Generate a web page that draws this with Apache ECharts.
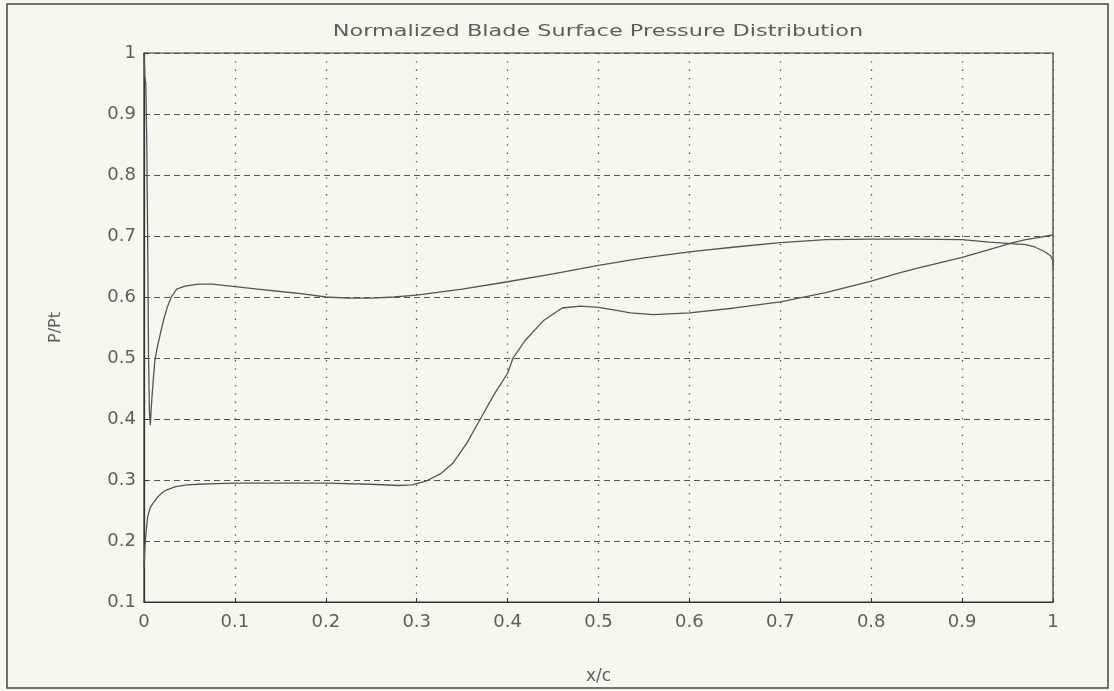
<!DOCTYPE html>
<html>
<head>
<meta charset="utf-8">
<script src="https://cdn.jsdelivr.net/npm/echarts@6/dist/echarts.min.js"></script>
<style>
html,body{margin:0;padding:0;background:#f7f7ef;}
#c{width:1114px;height:691px;}
</style>
</head>
<body>
<div id="c"></div>
<script>
const titleText = 'Normalized Blade Surface Pressure Distribution';
const xName = 'x/c';
const yName = 'P/Pt';
const xTickLabels = ['0','0.1','0.2','0.3','0.4','0.5','0.6','0.7','0.8','0.9','1'];
const yTickLabels = ['0.1','0.2','0.3','0.4','0.5','0.6','0.7','0.8','0.9','1'];

// Upper curve (starts at stagnation spike)
const upperX = [0,0.001,0.002,0.003,0.004,0.005,0.006,0.007,0.008,0.01,0.012,0.015,0.018,0.022,0.026,0.03,0.036,0.045,0.06,0.075,0.1,0.125,0.15,0.175,0.2,0.225,0.25,0.275,0.3,0.35,0.4,0.45,0.5,0.55,0.6,0.65,0.7,0.75,0.8,0.85,0.9,0.93,0.95,0.97,0.98,0.99,0.997,1.0,1.0];
const upperY = [1.0,0.96,0.95,0.86,0.7,0.5,0.41,0.39,0.42,0.46,0.497,0.52,0.54,0.565,0.585,0.6,0.613,0.618,0.621,0.621,0.617,0.613,0.609,0.605,0.6,0.598,0.598,0.6,0.603,0.613,0.625,0.638,0.652,0.664,0.674,0.682,0.689,0.694,0.695,0.695,0.694,0.69,0.688,0.686,0.682,0.675,0.668,0.66,0.648];

// Lower curve
const lowerX = [0,0.001,0.002,0.004,0.007,0.01,0.015,0.02,0.025,0.035,0.047,0.06,0.08,0.1,0.15,0.2,0.25,0.28,0.295,0.31,0.326,0.34,0.355,0.37,0.385,0.4,0.406,0.42,0.44,0.46,0.48,0.5,0.52,0.535,0.56,0.6,0.65,0.7,0.75,0.8,0.832,0.85,0.9,0.94,0.956,0.97,0.982,0.993,1.0];
const lowerY = [0.155,0.19,0.21,0.24,0.255,0.262,0.272,0.279,0.284,0.289,0.292,0.293,0.294,0.295,0.295,0.295,0.293,0.291,0.292,0.298,0.31,0.328,0.36,0.4,0.44,0.475,0.5,0.53,0.562,0.582,0.585,0.583,0.578,0.574,0.571,0.574,0.582,0.592,0.607,0.626,0.64,0.647,0.665,0.682,0.689,0.694,0.697,0.70,0.702];

const pairs = (xs, ys) => xs.map((x, i) => [x, ys[i]]);
const font = 'DejaVu Sans';
const txt = '#5e5e5e';

const chart = echarts.init(document.getElementById('c'), null, {renderer: 'canvas'});
chart.setOption({
  backgroundColor: '#f7f7ef',
  animation: false,
  grid: {left: 144, right: 61, top: 53, bottom: 89, show: true, borderColor: '#333', borderWidth: 1.2},
  xAxis: {
    type: 'value', min: 0, max: 1, interval: 0.1,
    name: xName, nameLocation: 'middle', nameGap: 66,
    nameTextStyle: {fontFamily: font, fontSize: 17, color: txt},
    axisLine: {show: true, lineStyle: {color: '#333', width: 1.2}},
    axisTick: {show: true, inside: true, length: 4, lineStyle: {color: '#333'}},
    axisLabel: {fontFamily: font, fontSize: 18, color: txt, margin: 11,
      formatter: (v) => xTickLabels[Math.round(v * 10)]},
    splitLine: {show: true, lineStyle: {color: '#555', width: 1.3, type: [1.3, 7]}}
  },
  yAxis: {
    type: 'value', min: 0.1, max: 1, interval: 0.1,
    name: yName, nameLocation: 'middle', nameGap: 80, nameRotate: 90,
    nameTextStyle: {fontFamily: font, fontSize: 16, color: txt},
    axisLine: {show: true, lineStyle: {color: '#333', width: 1.2}},
    axisTick: {show: true, inside: true, length: 4, lineStyle: {color: '#333'}},
    axisLabel: {fontFamily: font, fontSize: 18, color: txt, margin: 8,
      formatter: (v) => yTickLabels[Math.round(v * 10) - 1]},
    splitLine: {show: true, lineStyle: {color: '#555', width: 1.2, type: [6, 4]}}
  },
  graphic: [
    {
      type: 'rect', shape: {x: 7, y: 4, width: 1101, height: 684},
      style: {fill: 'none', stroke: '#444', lineWidth: 1.5}, silent: true
    },
    {
      type: 'text', x: 598, y: 32, scaleX: 1.4, silent: true,
      style: {text: titleText, font: '16px "DejaVu Sans"', fill: txt,
        textAlign: 'center', textVerticalAlign: 'middle'}
    }
  ],
  series: [
    {type: 'line', data: pairs(upperX, upperY), showSymbol: false, smooth: false,
     lineStyle: {color: '#555', width: 1.3}},
    {type: 'line', data: pairs(lowerX, lowerY), showSymbol: false, smooth: false,
     lineStyle: {color: '#555', width: 1.3}}
  ]
});
</script>
</body>
</html>
